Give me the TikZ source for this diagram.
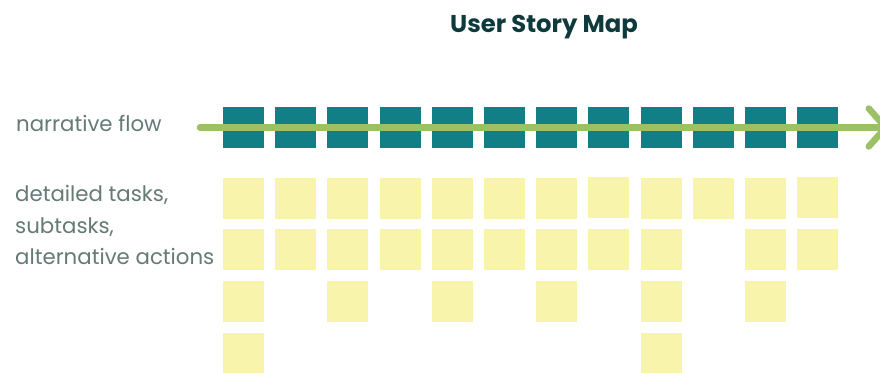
\documentclass[tikz,border=0pt]{standalone}
\usepackage{fontspec}
\setmainfont{Poppins}
\usetikzlibrary{arrows.meta}

\definecolor{storyteal}{HTML}{127F87}
\definecolor{taskyellow}{HTML}{F8F4AB}
\definecolor{flowgreen}{HTML}{9CC066}
\definecolor{labelgray}{HTML}{667A76}
\definecolor{titleink}{HTML}{0E3A3C}

\tikzset{
  card/.style={anchor=north west, minimum width=41pt, minimum height=41pt,
    inner sep=0pt, outer sep=0pt, draw=none},
  activity/.style={card, fill=storyteal},
  task/.style={card, fill=taskyellow},
  sidelabel/.style={anchor=base west, inner sep=0pt, text=labelgray,
    font=\fontsize{21.3}{25}\selectfont},
  flowline/.style={draw=flowgreen, line width=6.5pt, line cap=round,
    -{Straight Barb[length=17pt, width=38pt, line cap=round, line join=round]}},
}

\begin{document}
\begin{tikzpicture}[x=1pt, y=-1pt]
  \clip (0,0) rectangle (880,372);
  \fill[white] (0,0) rectangle (880,372);

  % title
  \node[anchor=base, inner sep=0pt, text=titleink,
        font=\fontsize{24.3}{28}\selectfont\bfseries] (title) at (544,32.3) {User Story Map};

  % backbone: one activity card per column
  \foreach \c in {1,...,12} {
    \node[activity] (act-\c) at ({223+52.2*(\c-1)}, 107) {};
  }

  % first row of tasks (two cards sit a pixel higher)
  \foreach \c/\dy in {1/0,2/0,3/0,4/0,5/0,6/0,7/0,8/-1,9/0,10/0,11/0,12/-1} {
    \node[task] (task-1-\c) at ({223+52.2*(\c-1)}, 178+\dy) {};
  }
  % second row
  \foreach \c in {1,2,3,4,5,6,7,8,9,11,12} {
    \node[task] (task-2-\c) at ({223+52.2*(\c-1)}, 229) {};
  }
  % third row
  \foreach \c in {1,3,5,7,9,11} {
    \node[task] (task-3-\c) at ({223+52.2*(\c-1)}, 281) {};
  }
  % fourth row
  \foreach \c in {1,9} {
    \node[task] (task-4-\c) at ({223+52.2*(\c-1)}, 333) {};
  }

  % narrative flow arrow across the backbone
  \coordinate (flow-start) at (200,127.5);
  \coordinate (flow-end) at (889,127.5);
  \draw[flowline] (flow-start) -- (flow-end);

  % row labels
  \node[sidelabel] (narrative) at (16,131) {narrative flow};
  \node[sidelabel] (details-1) at (15,201.5) {detailed tasks,};
  \node[sidelabel] (details-2) at (15,233.5) {subtasks,};
  \node[sidelabel] (details-3) at (15,264.5) {alternative actions};
\end{tikzpicture}
\end{document}
